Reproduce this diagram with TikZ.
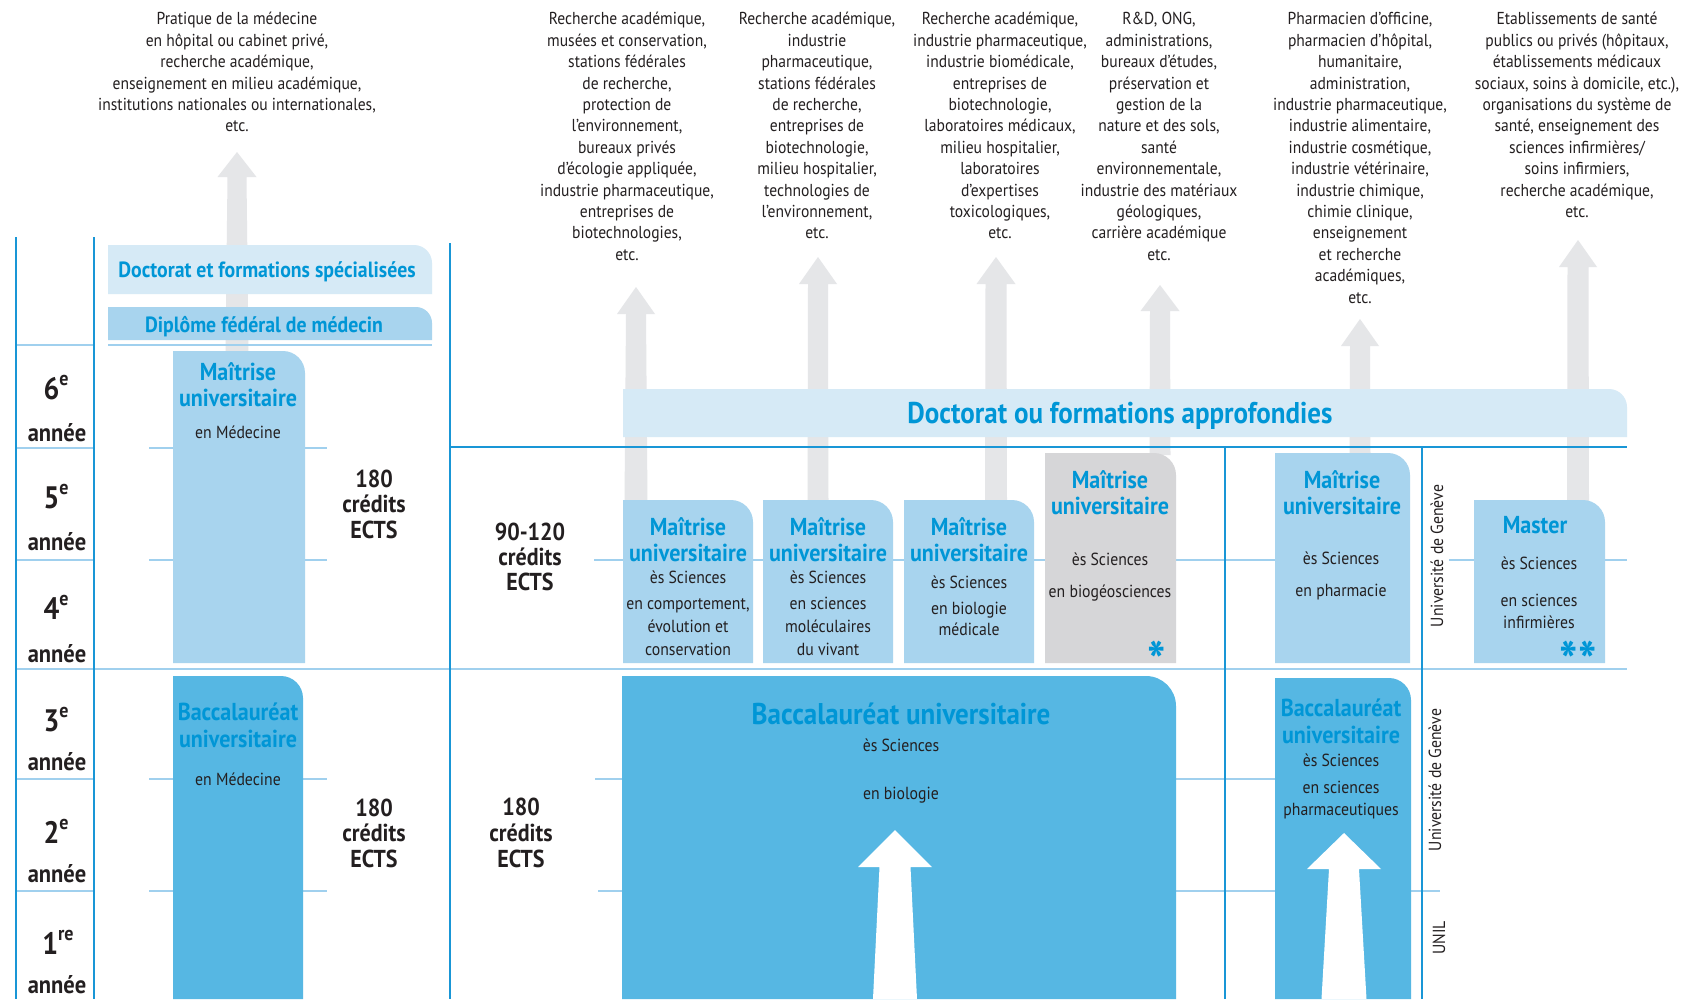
\documentclass[tikz,border=0pt]{standalone}
\usepackage{fontspec}
\setmainfont{PT Sans}[FakeStretch=0.9]
\definecolor{lineblue}{RGB}{25,150,214}
\definecolor{linelight}{RGB}{160,208,238}
\definecolor{bandlight}{RGB}{214,234,246}
\definecolor{mfill}{RGB}{168,212,238}
\definecolor{bfill}{RGB}{86,183,227}
\definecolor{grayfill}{RGB}{214,214,216}
\definecolor{agray}{RGB}{229,230,232}
\definecolor{tblue}{RGB}{0,150,214}
\definecolor{tblack}{RGB}{35,31,32}
% rounded top-right box: style, x1, y1, x2, y2, r
\newcommand\rtbox[6]{\fill[#1] (#2,#5) -- (#2,#3) -- ({#4-#6},#3) .. controls ({#4-0.45*#6},#3) and (#4,{#3+0.45*#6}) .. (#4,{#3+#6}) -- (#4,#5) -- cycle;}
% big arrow: style, tipx, tipy, basey, halfhead, halftop, halfbottom, bottomy
\newcommand\bigarrow[8]{\fill[#1] (#2,#3) -- ({#2+#5},#4) -- ({#2+#6},#4) -- ({#2+#7},#8) -- ({#2-#7},#8) -- ({#2-#6},#4) -- ({#2-#5},#4) -- cycle;}
\newcommand\supe[1]{\raisebox{0.42em}{\fontsize{20}{20}\selectfont #1}}
\begin{document}
\begin{tikzpicture}[x=1pt,y=-1pt,
  every node/.style={inner sep=0pt,outer sep=0pt,text=tblack},
  vline/.style={draw=lineblue,line width=1.6pt},
  lline/.style={draw=linelight,line width=2pt},
  toptext/.style={anchor=north,align=center,font=\fontsize{17.3}{21.4}\selectfont},
  boxtitle/.style={anchor=base,font=\fontsize{24.5}{26}\selectfont\bfseries,text=tblue},
  boxbody/.style={anchor=base,font=\fontsize{17.5}{22}\selectfont},
  bandtitle/.style={anchor=base,font=\fontsize{22}{26}\selectfont\bfseries,text=tblue},
  bigtitle/.style={anchor=base,font=\fontsize{30}{32}\selectfont\bfseries,text=tblue},
  yearnum/.style={anchor=base,font=\fontsize{31}{32}\selectfont\bfseries},
  annee/.style={anchor=base,font=\fontsize{25}{26}\selectfont\bfseries},
  credit/.style={anchor=base,font=\fontsize{24.5}{25}\selectfont\bfseries},
  rot/.style={rotate=90,font=\fontsize{17.5}{20}\selectfont},
  star/.style={anchor=north,font=\fontsize{54}{54}\selectfont\bfseries,text=tblue}]
\useasboundingbox (0,0) rectangle (1698,999);
\fill[white] (0,0) rectangle (1698,999);

% gray arrows
\bigarrow{agray}{237}{152}{177}{19.5}{9.5}{11.5}{352}
\bigarrow{agray}{636}{287}{314}{19}{10}{11.5}{502}
\bigarrow{agray}{818}{257}{284}{19}{10}{10.5}{502}
\bigarrow{agray}{996}{257}{284}{19.5}{10.5}{11}{502}
\bigarrow{agray}{1160}{285}{311}{19.5}{10}{10.5}{455}
\bigarrow{agray}{1360}{319}{346}{19}{10}{10.5}{455}
\bigarrow{agray}{1578}{240}{267}{19}{10.5}{11}{502}

% grid lines
\foreach \yy in {345,448,560,779,891} \draw[lline] (16,\yy) -- (94,\yy);
\draw[lline] (16,669) -- (1627,669);
\draw[lline] (108,345) -- (432,345);
\foreach \yy in {448,560,779,891} \draw[lline] (149,\yy) -- (327,\yy);
\draw[lline] (594,560) -- (1410,560);
\draw[lline] (1449,560) -- (1627,560);
\draw[lline] (595,779) -- (1300,779);
\draw[lline] (598,891) -- (1440,891);
\draw[vline] (16,237) -- (16,999);
\draw[vline] (94,237) -- (94,999);
\draw[vline] (450,243) -- (450,999);
\draw[vline] (450,447) -- (1627,447);
\draw[vline] (1225,447) -- (1225,999);
\draw[vline] (1422,447) -- (1422,999);

% boxes
\rtbox{bandlight}{108}{245}{432}{294}{18}
\rtbox{mfill}{108}{307}{432}{340}{16}
\rtbox{mfill}{173}{351}{305}{663}{22}
\rtbox{bfill}{173}{676}{303}{999}{22}
\rtbox{bandlight}{623}{389}{1627}{437}{18}
\rtbox{mfill}{623}{500}{753}{663}{22}
\rtbox{mfill}{763}{500}{893}{663}{22}
\rtbox{mfill}{904}{500}{1034}{663}{22}
\rtbox{grayfill}{1045}{453}{1176}{663}{22}
\rtbox{mfill}{1275}{453}{1410}{663}{22}
\rtbox{mfill}{1474}{500}{1605}{663}{22}
\rtbox{bfill}{622}{676}{1176}{999}{30}
\rtbox{bfill}{1275}{678}{1411}{999}{22}

% white arrows
\bigarrow{white}{895}{830}{867}{37}{15.5}{22}{999}
\bigarrow{white}{1344}{833}{869}{37}{15}{22.5}{999}

% top texts
\node[toptext] (tmed) at (237,10) {\strut Pratique de la médecine\\en hôpital ou cabinet privé,\\recherche académique,\\enseignement en milieu académique,\\institutions nationales ou internationales,\\etc.};
\node[toptext] (t1) at (627,10) {\strut Recherche académique,\\musées et conservation,\\stations fédérales\\de recherche,\\protection de\\l’environnement,\\bureaux privés\\d’écologie appliquée,\\industrie pharmaceutique,\\entreprises de\\biotechnologies,\\etc.};
\node[toptext] (t2) at (817,10) {\strut Recherche académique,\\industrie\\pharmaceutique,\\stations fédérales\\de recherche,\\entreprises de\\biotechnologie,\\milieu hospitalier,\\technologies de\\l’environnement,\\etc.};
\node[toptext] (t3) at (1000,10) {\strut Recherche académique,\\industrie pharmaceutique,\\industrie biomédicale,\\entreprises de\\biotechnologie,\\laboratoires médicaux,\\milieu hospitalier,\\laboratoires\\d’expertises\\toxicologiques,\\etc.};
\node[toptext] (t4) at (1159,10) {\strut R\&D, ONG,\\administrations,\\bureaux d’études,\\préservation et\\gestion de la\\nature et des sols,\\santé\\environnementale,\\industrie des matériaux\\géologiques,\\carrière académique\\etc.};
\node[toptext] (t5) at (1360,10) {\strut Pharmacien d’officine,\\pharmacien d’hôpital,\\humanitaire,\\administration,\\industrie pharmaceutique,\\industrie alimentaire,\\industrie cosmétique,\\industrie vétérinaire,\\industrie chimique,\\chimie clinique,\\enseignement\\et recherche\\académiques,\\etc.};
\node[toptext] (t6) at (1577,10) {\strut Etablissements de santé\\publics ou privés (hôpitaux,\\établissements médicaux\\sociaux, soins à domicile, etc.),\\organisations du système de\\santé, enseignement des\\sciences infirmières/\\soins infirmiers,\\recherche académique,\\etc.};

% bands
\node[bandtitle] (docspec) at (267,277) {Doctorat et formations spécialisées};
\node[bandtitle] (diplome) at (264,332) {Diplôme fédéral de médecin};
\node[bigtitle] (docappr) at (1120,423) {Doctorat ou formations approfondies};

% medicine boxes
\node[boxtitle] (mmed1) at (238,380) {Maîtrise};
\node[boxtitle] (mmed2) at (238,406) {universitaire};
\node[boxbody] (mmed3) at (238,438) {en Médecine};
\node[boxtitle] (bmed1) at (238,720) {Baccalauréat};
\node[boxtitle] (bmed2) at (238,747) {universitaire};
\node[boxbody] (bmed3) at (238,785) {en Médecine};

% years
\node[yearnum] (y6) at (56,399) {6\supe{e}};
\node[annee] (a6) at (57,441) {année};
\node[yearnum] (y5) at (56,508) {5\supe{e}};
\node[annee] (a5) at (57,550) {année};
\node[yearnum] (y4) at (56,619) {4\supe{e}};
\node[annee] (a4) at (57,662) {année};
\node[yearnum] (y3) at (56,731) {3\supe{e}};
\node[annee] (a3) at (57,770) {année};
\node[yearnum] (y2) at (56,843) {2\supe{e}};
\node[annee] (a2) at (57,882) {année};
\node[yearnum] (y1) at (58,954) {1\supe{re}};
\node[annee] (a1) at (57,993) {année};

% credits
\node[credit] (c1a) at (374,487) {180};
\node[credit] (c1b) at (374,512) {crédits};
\node[credit] (c1c) at (374,538) {ECTS};
\node[credit] (c2a) at (374,816) {180};
\node[credit] (c2b) at (374,841) {crédits};
\node[credit] (c2c) at (374,867) {ECTS};
\node[credit] (c3a) at (530,540) {90-120};
\node[credit] (c3b) at (530,565) {crédits};
\node[credit] (c3c) at (530,590) {ECTS};
\node[credit] (c4a) at (521,815) {180};
\node[credit] (c4b) at (521,841) {crédits};
\node[credit] (c4c) at (521,867) {ECTS};

% master boxes
\node[boxtitle] (m1a) at (688,535) {Maîtrise};
\node[boxtitle] (m1b) at (688,561) {universitaire};
\node[boxbody] (m1c) at (688,583) {ès Sciences};
\node[boxbody] (m1d) at (688,609) {en comportement,};
\node[boxbody] (m1e) at (688,632) {évolution et};
\node[boxbody] (m1f) at (688,655) {conservation};

\node[boxtitle] (m2a) at (828,535) {Maîtrise};
\node[boxtitle] (m2b) at (828,561) {universitaire};
\node[boxbody] (m2c) at (828,583) {ès Sciences};
\node[boxbody] (m2d) at (828,609) {en sciences};
\node[boxbody] (m2e) at (828,632) {moléculaires};
\node[boxbody] (m2f) at (828,655) {du vivant};

\node[boxtitle] (m3a) at (969,535) {Maîtrise};
\node[boxtitle] (m3b) at (969,561) {universitaire};
\node[boxbody] (m3c) at (969,588) {ès Sciences};
\node[boxbody] (m3d) at (969,614) {en biologie};
\node[boxbody] (m3e) at (969,635) {médicale};

\node[boxtitle] (m4a) at (1110,488) {Maîtrise};
\node[boxtitle] (m4b) at (1110,514) {universitaire};
\node[boxbody] (m4c) at (1110,565) {ès Sciences};
\node[boxbody] (m4d) at (1110,597) {en biogéosciences};
\node[star] (s1) at (1157,641) {*};

\node[boxtitle] (m5a) at (1342,488) {Maîtrise};
\node[boxtitle] (m5b) at (1342,514) {universitaire};
\node[boxbody] (m5c) at (1341,564) {ès Sciences};
\node[boxbody] (m5d) at (1341,596) {en pharmacie};

\node[boxtitle] (m6a) at (1535,533) {Master};
\node[boxbody] (m6b) at (1539,569) {ès Sciences};
\node[boxbody] (m6c) at (1539,606) {en sciences};
\node[boxbody] (m6d) at (1539,628) {infirmières};
\node[star] (s2) at (1578,641) {*\kern1pt*};

% bachelor boxes
\node[bigtitle] (bb1) at (901,724) {Baccalauréat universitaire};
\node[boxbody] (bb2) at (901,751) {ès Sciences};
\node[boxbody] (bb3) at (901,799) {en biologie};

\node[boxtitle] (bp1) at (1341,716) {Baccalauréat};
\node[boxtitle] (bp2) at (1341,743) {universitaire};
\node[boxbody] (bp3) at (1341,766) {ès Sciences};
\node[boxbody] (bp4) at (1341,793) {en sciences};
\node[boxbody] (bp5) at (1341,815) {pharmaceutiques};

% rotated university labels
\node[rot] (ug1) at (1437,556) {Université de Genève};
\node[rot] (ug2) at (1435,780) {Université de Genève};
\node[rot] (unil) at (1439,938) {UNIL};
\end{tikzpicture}
\end{document}
